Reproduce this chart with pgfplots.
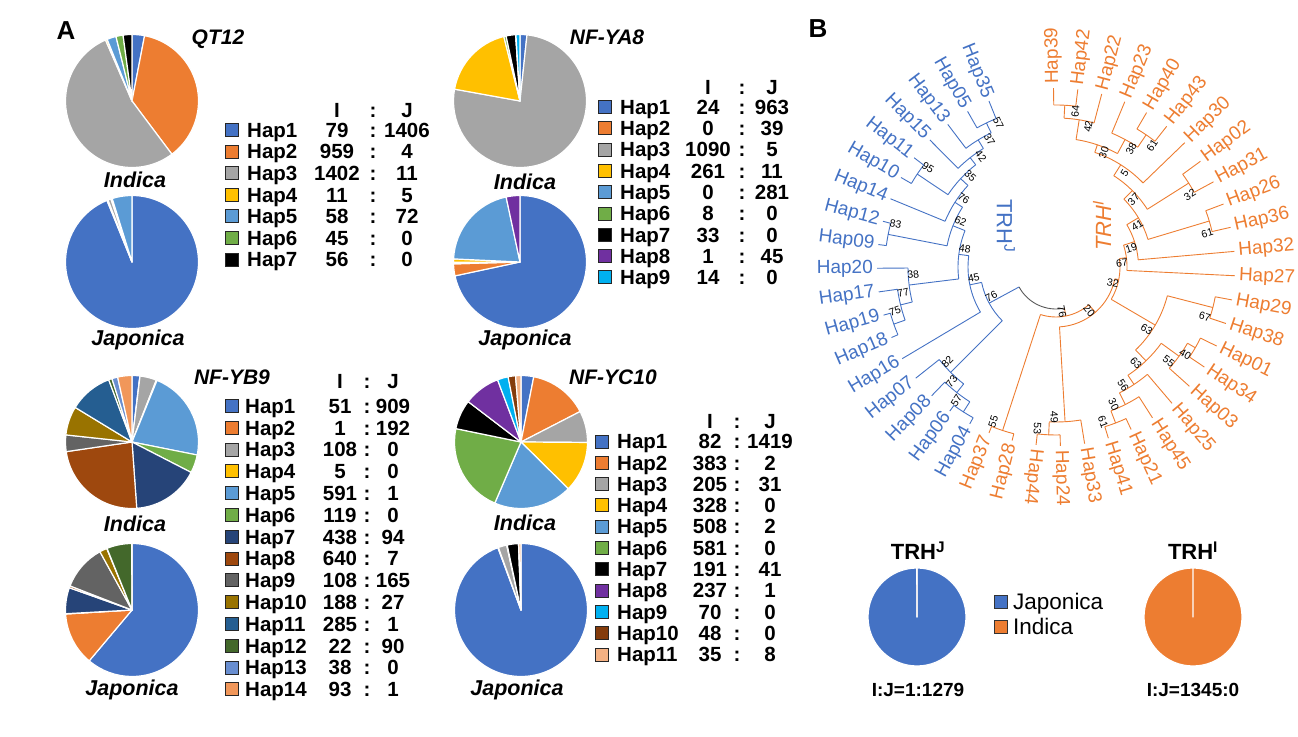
\documentclass[border=0pt]{standalone}
\usepackage{pgfplots}
\pgfplotsset{compat=1.18}
\usepackage{pgfplotstable}
\usepackage{fontspec}
\setmainfont{Liberation Sans}

\definecolor{cA}{HTML}{4472C4}
\definecolor{cB}{HTML}{ED7D31}
\definecolor{cC}{HTML}{A5A5A5}
\definecolor{cD}{HTML}{FFC000}
\definecolor{cE}{HTML}{5B9BD5}
\definecolor{cF}{HTML}{70AD47}
\definecolor{cK}{HTML}{000000}
\definecolor{cP}{HTML}{7030A0}
\definecolor{cY}{HTML}{00B0F0}
\definecolor{cG}{HTML}{264478}
\definecolor{cH}{HTML}{9E480E}
\definecolor{cI}{HTML}{636363}
\definecolor{cJ}{HTML}{997300}
\definecolor{cL}{HTML}{255E91}
\definecolor{cM}{HTML}{43682B}
\definecolor{cN}{HTML}{698ED0}
\definecolor{cO}{HTML}{F1975A}
\definecolor{cQ}{HTML}{843C0C}
\definecolor{cR}{HTML}{F4B183}
\definecolor{treeB}{HTML}{4472C4}
\definecolor{treeO}{HTML}{ED7D31}
\definecolor{rootC}{HTML}{595959}

\pgfplotstableread{
hap I J col
Hap1 79 1406 cA
Hap2 959 4 cB
Hap3 1402 11 cC
Hap4 11 5 cD
Hap5 58 72 cE
Hap6 45 0 cF
Hap7 56 0 cK
}\tQT

\pgfplotstableread{
hap I J col
Hap1 24 963 cA
Hap2 0 39 cB
Hap3 1090 5 cC
Hap4 261 11 cD
Hap5 0 281 cE
Hap6 8 0 cF
Hap7 33 0 cK
Hap8 1 45 cP
Hap9 14 0 cY
}\tYA

\pgfplotstableread{
hap I J col
Hap1 51 909 cA
Hap2 1 192 cB
Hap3 108 0 cC
Hap4 5 0 cD
Hap5 591 1 cE
Hap6 119 0 cF
Hap7 438 94 cG
Hap8 640 7 cH
Hap9 108 165 cI
Hap10 188 27 cJ
Hap11 285 1 cL
Hap12 22 90 cM
Hap13 38 0 cN
Hap14 93 1 cO
}\tYB

\pgfplotstableread{
hap I J col
Hap1 82 1419 cA
Hap2 383 2 cB
Hap3 205 31 cC
Hap4 328 0 cD
Hap5 508 2 cE
Hap6 581 0 cF
Hap7 191 41 cK
Hap8 237 1 cP
Hap9 70 0 cY
Hap10 48 0 cQ
Hap11 35 8 cR
}\tYC

\pgfplotstableread{
cls TRHJ TRHI col
Japonica 1279 0 cA
Indica 1 1345 cB
}\tTRH

\newcommand\fs[1]{\fontsize{#1}{#1}\selectfont}
\newcommand\tabfont{\bfseries\fs{20.5}}
% image coordinates (y downwards) -> axis coordinates
\newcommand\Q[2]{(axis cs:{#1},{736-(#2)})}
% polar coordinates around the tree centre: angle, radius
\newcommand\PP[2]{(axis cs:{1056+(#2)*cos(#1)},{469+(#2)*sin(#1)})}

\newcommand\drawpie[5]{%
  \pgfplotstablegetrowsof{#1}%
  \pgfmathtruncatemacro\pN{\pgfplotsretval-1}%
  \def\ptot{0}%
  \pgfplotsforeachungrouped \pk in {0,...,\pN}{%
    \pgfplotstablegetelem{\pk}{#2}\of{#1}%
    \pgfmathsetmacro\ptot{\ptot+\pgfplotsretval}%
  }%
  \def\pacc{0}%
  \pgfplotsforeachungrouped \pk in {0,...,\pN}{%
    \pgfplotstablegetelem{\pk}{#2}\of{#1}\let\pv\pgfplotsretval
    \pgfplotstablegetelem{\pk}{col}\of{#1}\let\pc\pgfplotsretval
    \pgfmathsetmacro\paS{90-360*(\pacc/\ptot)}%
    \pgfmathsetmacro\pacc{\pacc+\pv}%
    \pgfmathsetmacro\paE{90-360*(\pacc/\ptot)}%
    \ifdim\pv pt>0pt
      \edef\ptmp{\noexpand\fill[fill=\pc,draw=white,line width=1.2pt,line join=round]
        (axis cs:{#3},{736-#4}) -- (axis cs:{#3+#5*cos(\paS)},{736-#4+#5*sin(\paS)})
        arc[start angle=\paS,end angle=\paE,radius=#5pt] -- cycle;}%
      \ptmp
    \fi
  }%
}

% #1 tbl #2 sqx #3 labx #4 Ix #5 colonx #6 Jx #7 y0 #8 step #9 header y
\newcommand\drawtab[9]{%
  \node[font=\tabfont,anchor=base,inner sep=0pt] at \Q{#4}{#9+7.3} {I};
  \node[font=\tabfont,anchor=base,inner sep=0pt] at \Q{#5}{#9+7.3} {:};
  \node[font=\tabfont,anchor=base,inner sep=0pt] at \Q{#6}{#9+7.3} {J};
  \pgfplotstablegetrowsof{#1}%
  \pgfmathtruncatemacro\pN{\pgfplotsretval-1}%
  \pgfplotsforeachungrouped \pk in {0,...,\pN}{%
    \pgfplotstablegetelem{\pk}{hap}\of{#1}\let\ph\pgfplotsretval
    \pgfplotstablegetelem{\pk}{I}\of{#1}\let\pI\pgfplotsretval
    \pgfplotstablegetelem{\pk}{J}\of{#1}\let\pJ\pgfplotsretval
    \pgfplotstablegetelem{\pk}{col}\of{#1}\let\pc\pgfplotsretval
    \pgfmathsetmacro\py{#7+\pk*#8}%
    \edef\ptmp{%
      \noexpand\draw[fill=\pc,draw=black!85,line width=0.8pt] \Q{#2-6.5}{\py-6.5} rectangle \Q{#2+6.5}{\py+6.5};
      \noexpand\node[font=\noexpand\tabfont,anchor=base west,inner sep=0pt] at \Q{#3}{\py+7.3} {\ph};
      \noexpand\node[font=\noexpand\tabfont,anchor=base,inner sep=0pt] at \Q{#4}{\py+7.3} {\pI};
      \noexpand\node[font=\noexpand\tabfont,anchor=base,inner sep=0pt] at \Q{#5}{\py+7.3} {:};
      \noexpand\node[font=\noexpand\tabfont,anchor=base,inner sep=0pt] at \Q{#6}{\py+7.3} {\pJ};
    }\ptmp
  }%
}

% tree helpers
\newcommand\bsnode[4]{\node[rotate={#4},font=\fs{10.5},inner sep=0pt,anchor=center] at \PP{#1-4}{#2-5} {#3};}
\newcommand\bs[3]{\ifdim #1pt>-100pt\ifdim #1pt<100pt\bsnode{#1}{#2}{#3}{#1}\else\bsnode{#1}{#2}{#3}{#1-180}\fi\else\bsnode{#1}{#2}{#3}{#1+180}\fi}
% r a1 a2 a rparent bootstrap colour
\newcommand\tn[7]{%
  \draw[#7,line width=0.9pt] \PP{#2}{#1} arc[start angle=#2,end angle=#3,radius=#1pt];
  \draw[#7,line width=0.9pt] \PP{#4}{#5} -- \PP{#4}{#1};
  \bs{#4}{#1}{#6}}
\newcommand\lfnode[5]{\node[rotate={#4},anchor=#5,text=#3,font=\fs{19},inner sep=0pt] at \PP{#1}{183} {#2};}
% angle rparent name colour
\newcommand\leaf[4]{%
  \draw[#4,line width=0.9pt] \PP{#1}{#2} -- \PP{#1}{179};
  \ifdim #1pt>-100pt\ifdim #1pt<100pt\lfnode{#1}{#3}{#4}{#1}{west}\else\lfnode{#1}{#3}{#4}{#1-180}{east}\fi\else\lfnode{#1}{#3}{#4}{#1+180}{east}\fi}

\begin{document}
\begin{tikzpicture}
\useasboundingbox (0,0) rectangle (1298pt,736pt);
\begin{axis}[at={(0,0)},anchor=south west,width=1298pt,height=736pt,scale only axis,
  xmin=0,xmax=1298,ymin=0,ymax=736,hide axis,clip=false]

% ---------------- Panel A ----------------
\node[font=\bfseries\fs{26},anchor=base] at \Q{66}{39.3} {A};
\node[font=\bfseries\fs{26},anchor=base] at \Q{818}{37.3} {B};

% QT12
\drawpie{\tQT}{I}{132}{101}{66.5}
\drawpie{\tQT}{J}{132}{262}{66.5}
\node[font=\bfseries\itshape\fs{21},anchor=base] at \Q{218}{44.5} {QT12};
\node[font=\bfseries\itshape\fs{21.5},anchor=base] at \Q{135}{187.7} {Indica};
\node[font=\bfseries\itshape\fs{21.5},anchor=base] at \Q{138}{345.7} {Japonica};
\drawtab{\tQT}{232}{247}{337}{373}{407}{130}{21.6}{110}

% NF-YA8
\drawpie{\tYA}{I}{520}{101}{66.5}
\drawpie{\tYA}{J}{520}{262}{66.5}
\node[font=\bfseries\itshape\fs{21},anchor=base] at \Q{607}{44.5} {NF-YA8};
\node[font=\bfseries\itshape\fs{21.5},anchor=base] at \Q{525}{189.7} {Indica};
\node[font=\bfseries\itshape\fs{21.5},anchor=base] at \Q{525}{345.7} {Japonica};
\drawtab{\tYA}{604.5}{620}{708}{742}{772}{107}{21.3}{87.5}

% NF-YB9
\drawpie{\tYB}{I}{132}{442}{66.5}
\drawpie{\tYB}{J}{132}{610}{66.5}
\node[font=\bfseries\itshape\fs{21},anchor=base] at \Q{232}{384.5} {NF-YB9};
\node[font=\bfseries\itshape\fs{21.5},anchor=base] at \Q{135}{531.7} {Indica};
\node[font=\bfseries\itshape\fs{21.5},anchor=base] at \Q{132}{695.7} {Japonica};
\drawtab{\tYB}{232}{245}{340}{367}{393}{406}{21.8}{381}

% NF-YC10
\drawpie{\tYC}{I}{521}{442}{66.5}
\drawpie{\tYC}{J}{521}{610}{66.5}
\node[font=\bfseries\itshape\fs{21},anchor=base] at \Q{613}{384.5} {NF-YC10};
\node[font=\bfseries\itshape\fs{21.5},anchor=base] at \Q{525}{530.7} {Indica};
\node[font=\bfseries\itshape\fs{21.5},anchor=base] at \Q{517}{695.7} {Japonica};
\drawtab{\tYC}{602}{617}{710}{737}{770}{441.5}{21.3}{421}

% ---------------- Panel B: tree ----------------
\draw[rootC,line width=0.9pt] \PP{208.4}{42} arc[start angle=208.4,end angle=281.45,radius=42pt];

% TRH^J clade
\tn{76}{191.7}{225}{208.4}{42}{76}{treeB}
\tn{88}{172.6}{210.8}{191.7}{76}{45}{treeB}
\tn{98}{158.2}{187}{172.6}{88}{48}{treeB}
\tn{111}{147.4}{169}{158.2}{98}{62}{treeB}
\tn{120}{137.2}{157.6}{147.4}{111}{76}{treeB}
\tn{130}{128.15}{146.2}{137.2}{120}{35}{treeB}
\tn{139}{121.5}{134.8}{128.15}{130}{42}{treeB}
\tn{149}{115.8}{127.2}{121.5}{139}{37}{treeB}
\tn{160}{112}{119.6}{115.8}{149}{57}{treeB}
\tn{167}{142.4}{150}{146.2}{130}{95}{treeB}
\tn{171}{165.2}{172.8}{169}{111}{83}{treeB}
\tn{148}{180.4}{193.7}{187}{98}{38}{treeB}
\tn{160}{188}{199.4}{193.7}{148}{77}{treeB}
\tn{172}{195.6}{203.2}{199.4}{160}{75}{treeB}
\tn{149}{218.4}{231.7}{225}{76}{82}{treeB}
\tn{160}{226}{237.4}{231.7}{149}{73}{treeB}
\tn{172}{233.6}{241.2}{237.4}{160}{57}{treeB}

\leaf{112}{160}{Hap35}{treeB}
\leaf{119.6}{160}{Hap05}{treeB}
\leaf{127.2}{149}{Hap13}{treeB}
\leaf{134.8}{139}{Hap15}{treeB}
\leaf{142.4}{167}{Hap11}{treeB}
\leaf{150}{167}{Hap10}{treeB}
\leaf{157.6}{120}{Hap14}{treeB}
\leaf{165.2}{171}{Hap12}{treeB}
\leaf{172.8}{171}{Hap09}{treeB}
\leaf{180.4}{148}{Hap20}{treeB}
\leaf{188}{160}{Hap17}{treeB}
\leaf{195.6}{172}{Hap19}{treeB}
\leaf{203.2}{172}{Hap18}{treeB}
\leaf{210.8}{88}{Hap16}{treeB}
\leaf{218.4}{149}{Hap07}{treeB}
\leaf{226}{160}{Hap08}{treeB}
\leaf{233.6}{172}{Hap06}{treeB}
\leaf{241.2}{172}{Hap04}{treeB}

% TRH^I clade
\tn{50}{-108.1}{-49}{-78.55}{42}{76}{treeO}
\tn{172}{-112}{-104.2}{-108.1}{50}{55}{treeO}
\tn{60}{-86.65}{-11.4}{-49}{50}{20}{treeO}
\tn{155}{-92.5}{-80.8}{-86.65}{60}{49}{treeO}
\tn{168}{-96.4}{-88.6}{-92.5}{155}{53}{treeO}
\tn{64}{-30.35}{7.55}{-11.4}{60}{32}{treeO}
\tn{115}{-46.2}{-14.5}{-30.35}{64}{63}{treeO}
\tn{162}{-18.4}{-10.6}{-14.5}{115}{67}{treeO}
\tn{130}{-56.4}{-35.95}{-46.2}{115}{63}{treeO}
\tn{152}{-41.8}{-30.1}{-35.95}{130}{55}{treeO}
\tn{161}{-34}{-26.2}{-30.1}{152}{40}{treeO}
\tn{141}{-63.25}{-49.6}{-56.4}{130}{56}{treeO}
\tn{154}{-69.1}{-57.4}{-63.25}{141}{30}{treeO}
\tn{167}{-73}{-65.2}{-69.1}{154}{61}{treeO}
\tn{71}{-2.8}{17.9}{7.55}{64}{67}{treeO}
\tn{82.5}{5}{30.85}{17.9}{71}{19}{treeO}
\tn{96}{16.7}{45}{30.85}{82.5}{41}{treeO}
\tn{160}{12.8}{20.6}{16.7}{96}{61}{treeO}
\tn{108}{32.3}{57.65}{45}{96}{37}{treeO}
\tn{157}{28.4}{36.2}{32.3}{108}{32}{treeO}
\tn{121}{44}{71.3}{57.65}{108}{5}{treeO}
\tn{129}{61.55}{81.05}{71.3}{121}{30}{treeO}
\tn{145}{55.7}{67.4}{61.55}{129}{38}{treeO}
\tn{160}{51.8}{59.6}{55.7}{145}{61}{treeO}
\tn{149}{75.2}{86.9}{81.05}{129}{42}{treeO}
\tn{162}{83}{90.8}{86.9}{149}{64}{treeO}

\leaf{-112}{172}{Hap37}{treeO}
\leaf{-104.2}{172}{Hap28}{treeO}
\leaf{-96.4}{168}{Hap44}{treeO}
\leaf{-88.6}{168}{Hap24}{treeO}
\leaf{-80.8}{155}{Hap33}{treeO}
\leaf{-73}{167}{Hap41}{treeO}
\leaf{-65.2}{167}{Hap21}{treeO}
\leaf{-57.4}{154}{Hap45}{treeO}
\leaf{-49.6}{141}{Hap25}{treeO}
\leaf{-41.8}{152}{Hap03}{treeO}
\leaf{-34}{161}{Hap34}{treeO}
\leaf{-26.2}{161}{Hap01}{treeO}
\leaf{-18.4}{162}{Hap38}{treeO}
\leaf{-10.6}{162}{Hap29}{treeO}
\leaf{-2.8}{71}{Hap27}{treeO}
\leaf{5}{82.5}{Hap32}{treeO}
\leaf{12.8}{160}{Hap36}{treeO}
\leaf{20.6}{160}{Hap26}{treeO}
\leaf{28.4}{157}{Hap31}{treeO}
\leaf{36.2}{157}{Hap02}{treeO}
\leaf{44}{121}{Hap30}{treeO}
\leaf{51.8}{160}{Hap43}{treeO}
\leaf{59.6}{160}{Hap40}{treeO}
\leaf{67.4}{145}{Hap23}{treeO}
\leaf{75.2}{149}{Hap22}{treeO}
\leaf{83}{162}{Hap42}{treeO}
\leaf{90.8}{162}{Hap39}{treeO}

\node[rotate=-90,text=treeB,font=\fs{22}] at \Q{1006}{226} {TRH\textsuperscript{J}};
\node[rotate=90,text=treeO,font=\itshape\fs{22}] at \Q{1102}{226} {TRH\textsuperscript{I}};

% ---------------- Panel B: clade pies ----------------
\drawpie{\tTRH}{TRHJ}{917}{617}{49}
\drawpie{\tTRH}{TRHI}{1193}{617}{49}
\node[font=\bfseries\fs{22},anchor=base] at \Q{918}{559.9} {TRH\textsuperscript{J}};
\node[font=\bfseries\fs{22},anchor=base] at \Q{1193}{559.9} {TRH\textsuperscript{I}};
\node[font=\bfseries\fs{19},anchor=base] at \Q{918}{696.8} {I:J=1:1279};
\node[font=\bfseries\fs{19},anchor=base] at \Q{1193}{696.8} {I:J=1345:0};
\draw[fill=cA,draw=black!80,line width=0.8pt] \Q{994.5}{595.5} rectangle \Q{1007.5}{608.5};
\draw[fill=cB,draw=black!80,line width=0.8pt] \Q{994.5}{620.5} rectangle \Q{1007.5}{633.5};
\node[font=\fs{22.5},anchor=base west,inner sep=0pt] at \Q{1013}{610} {Japonica};
\node[font=\fs{22.5},anchor=base west,inner sep=0pt] at \Q{1013}{635} {Indica};

\end{axis}
\end{tikzpicture}
\end{document}
